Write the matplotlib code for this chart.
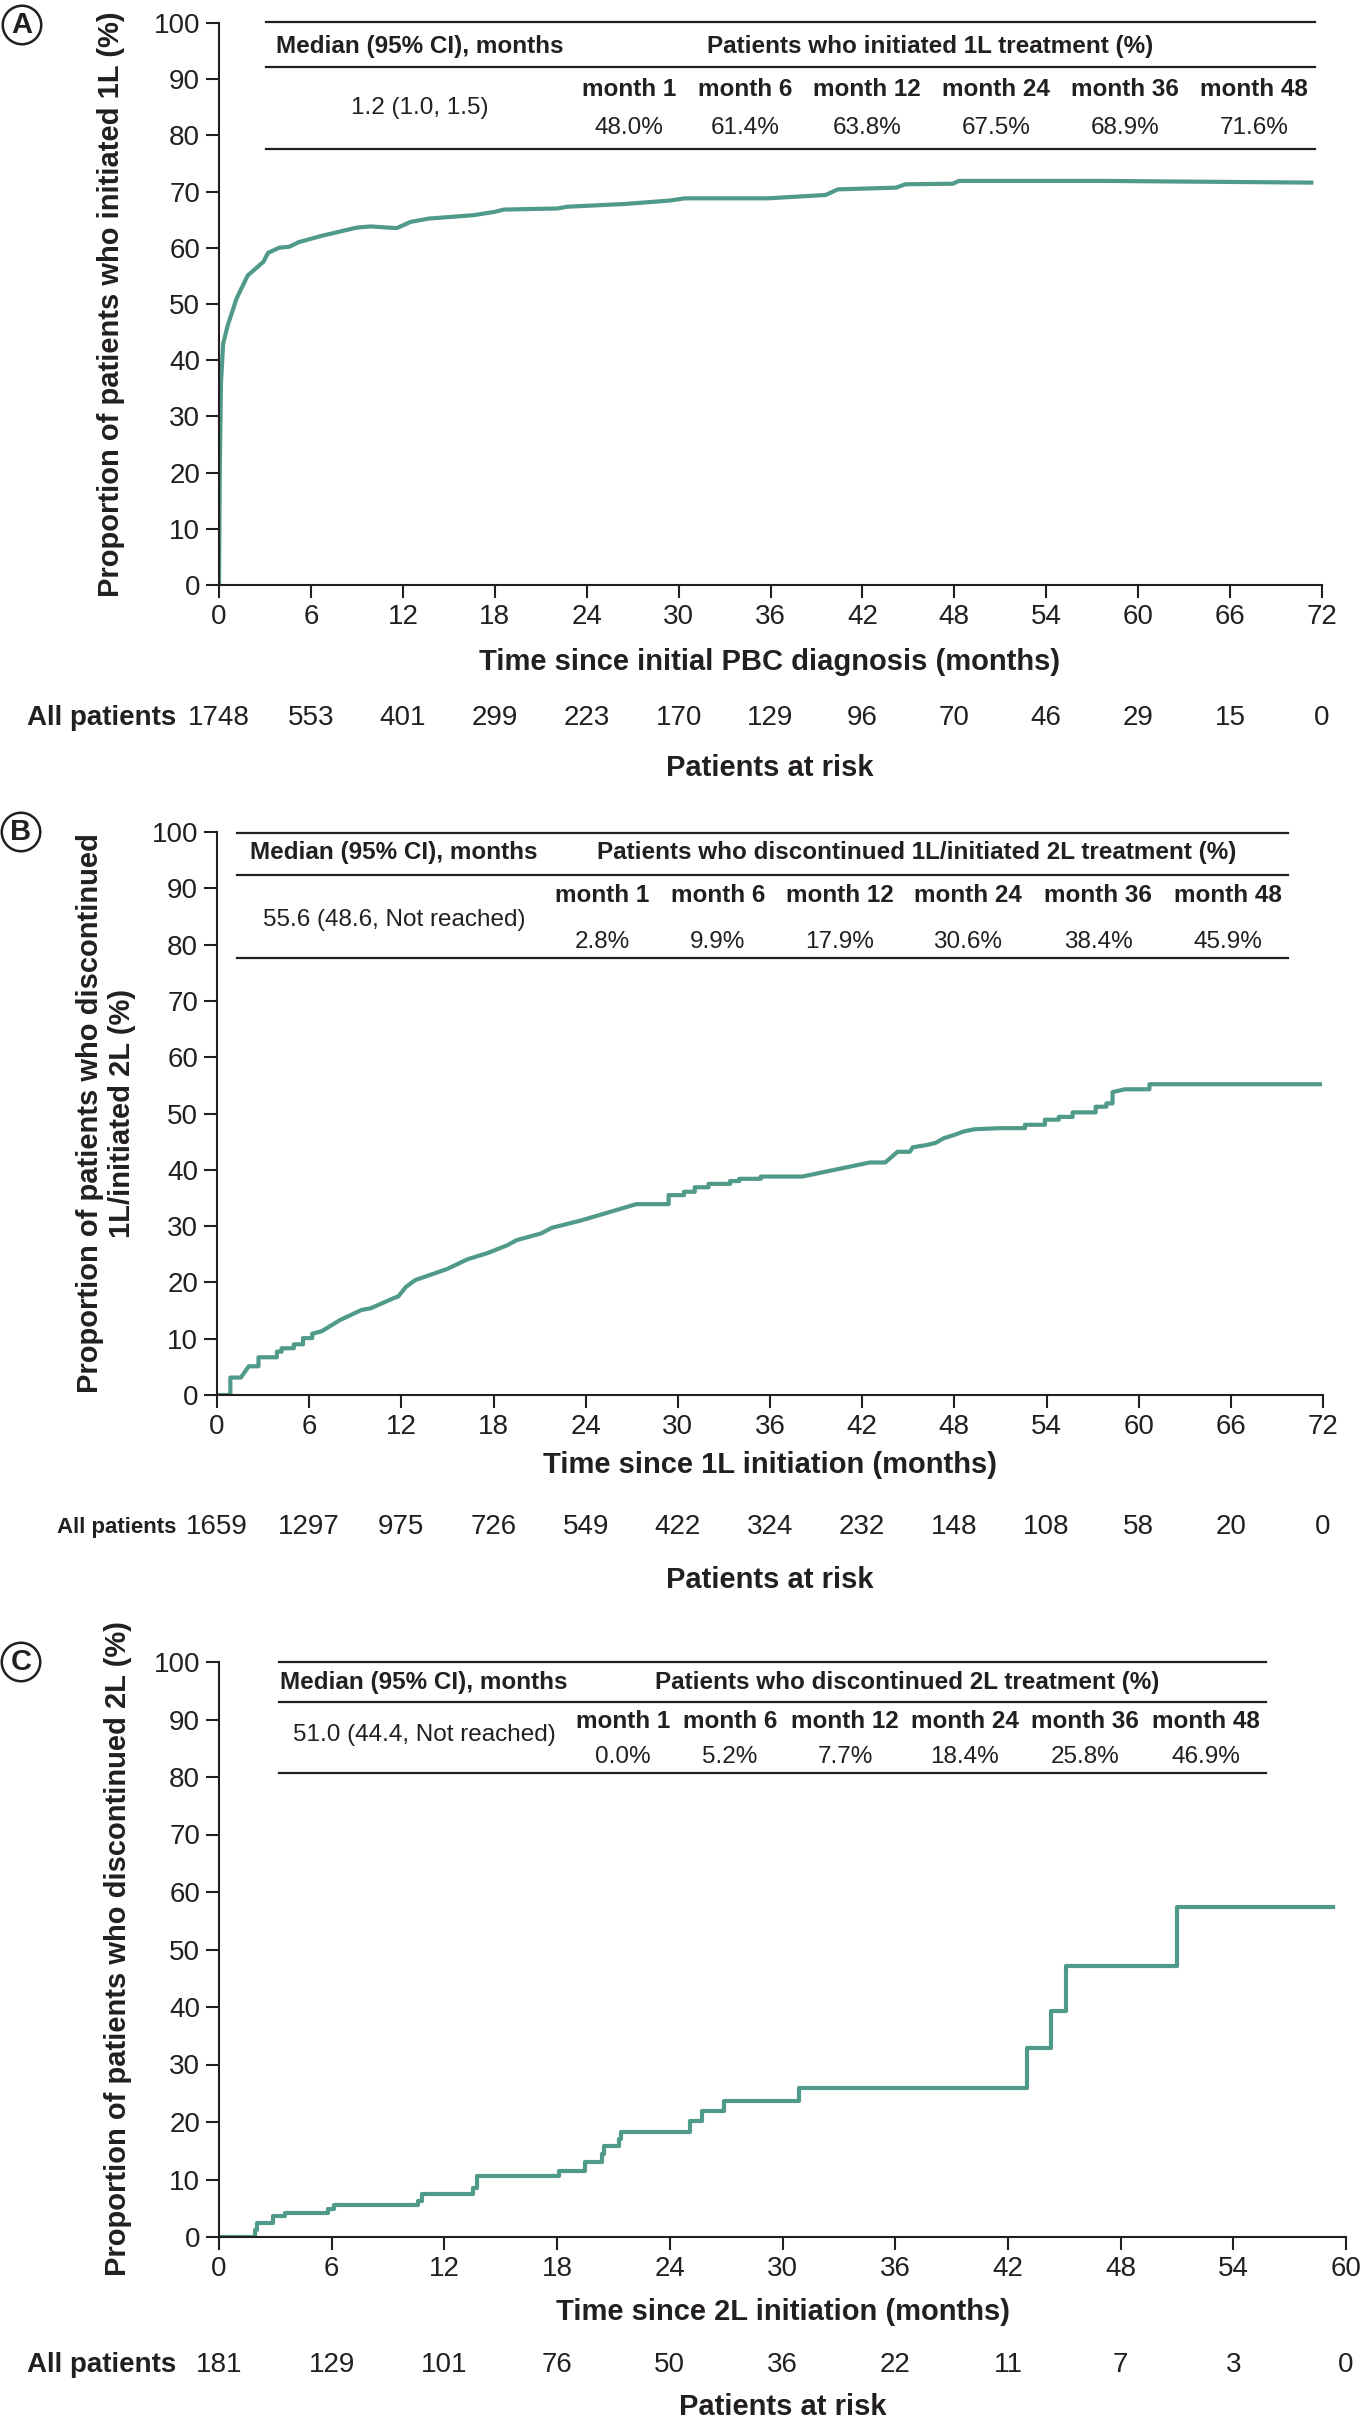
import matplotlib
matplotlib.use("Agg")
import matplotlib.pyplot as plt
from matplotlib.lines import Line2D
import matplotlib.transforms as mtransforms

plt.rcParams['font.family'] = ['Liberation Sans', 'DejaVu Sans']

# ---- data ----
# panel A: cumulative proportion initiating 1L (smooth curve)
a_time = [0, 0.05, 0.13, 0.27, 0.57, 1.15, 1.88, 2.9, 3.2, 3.92, 4.6, 5.2, 6.66, 9.0, 9.9,
          11.6, 12.5, 13.7, 16.6, 18.0, 18.6, 22.1, 22.7, 26.5, 29.4, 30.4, 35.8, 39.6, 40.4,
          44.2, 44.8, 47.9, 48.3, 57.8, 71.3]
a_pct = [0, 20, 36.0, 42.9, 46.2, 51.0, 55.1, 57.5, 59.1, 60.0, 60.2, 61.0, 62.1, 63.6, 63.8,
         63.5, 64.6, 65.2, 65.8, 66.4, 66.8, 67.0, 67.3, 67.8, 68.4, 68.8, 68.8, 69.4, 70.4,
         70.7, 71.3, 71.4, 71.9, 71.9, 71.6]

# panel B: discontinued 1L / initiated 2L
b_time = [0, 0.87, 0.87, 1.55, 2.07, 2.7, 2.7, 3.9, 3.9, 4.2, 4.2, 5.0, 5.0, 5.6, 5.6, 6.2, 6.2,
          6.8, 8.0, 9.4, 10.0, 11.5, 11.8, 12.3, 12.9, 15.0, 16.3, 17.6, 18.9, 19.5, 21.1, 21.8,
          23.7, 27.3, 29.4, 29.4, 30.4, 30.4, 31.1, 31.1, 32.0, 32.0, 33.4, 33.4, 34.0, 34.0,
          35.4, 35.4, 38.1, 42.5, 43.5, 44.3, 45.1, 45.3, 46.2, 46.8, 47.3, 48.0, 48.6, 49.3,
          51.0, 52.6, 52.6, 53.9, 53.9, 54.8, 54.8, 55.7, 55.7, 57.2, 57.2, 57.9, 57.9, 58.3,
          58.3, 59.1, 60.7, 60.7, 71.8]
b_pct = [0, 0, 3.1, 3.1, 5.1, 5.1, 6.7, 6.7, 7.7, 7.7, 8.3, 8.3, 9.0, 9.0, 10.1, 10.1, 10.9,
         11.3, 13.3, 15.1, 15.4, 17.2, 17.5, 19.2, 20.4, 22.4, 24.1, 25.2, 26.6, 27.5, 28.7, 29.7,
         31.0, 33.9, 33.9, 35.5, 35.5, 36.1, 36.1, 36.9, 36.9, 37.5, 37.5, 38.0, 38.0, 38.4,
         38.4, 38.8, 38.8, 41.3, 41.3, 43.2, 43.2, 44.0, 44.4, 44.8, 45.6, 46.2, 46.8, 47.2,
         47.4, 47.4, 48.0, 48.0, 48.9, 48.9, 49.4, 49.4, 50.2, 50.2, 51.2, 51.2, 51.8, 51.8,
         53.8, 54.3, 54.3, 55.2, 55.2]

# panel C: discontinued 2L (step function)
c_time = [0, 1.9, 2.0, 2.9, 3.5, 5.8, 6.1, 10.6, 10.8, 13.5, 13.75, 18.1, 19.5, 20.4, 20.5,
          21.3, 21.4, 25.1, 25.7, 26.9, 30.9, 43.0, 44.3, 45.1, 51.0, 59.3]
c_pct = [0, 1.3, 2.5, 3.7, 4.2, 4.9, 5.6, 6.3, 7.4, 8.5, 10.6, 11.5, 13.0, 14.5, 15.8, 17.0,
         18.2, 20.2, 22.0, 23.7, 25.9, 32.8, 39.3, 47.1, 57.4, 57.4]

months_tbl = ['month 1', 'month 6', 'month 12', 'month 24', 'month 36', 'month 48']
a_tbl = ['48.0%', '61.4%', '63.8%', '67.5%', '68.9%', '71.6%']
b_tbl = ['2.8%', '9.9%', '17.9%', '30.6%', '38.4%', '45.9%']
c_tbl = ['0.0%', '5.2%', '7.7%', '18.4%', '25.8%', '46.9%']

a_risk = [1748, 553, 401, 299, 223, 170, 129, 96, 70, 46, 29, 15, 0]
b_risk = [1659, 1297, 975, 726, 549, 422, 324, 232, 148, 108, 58, 20, 0]
c_risk = [181, 129, 101, 76, 50, 36, 22, 11, 7, 3, 0]

# ---- layout ----
W, H = 1363, 2421
fig = plt.figure(figsize=(W / 100, H / 100), dpi=100)
LINE_C = '#4f9a89'
TXT = '#231f20'


def fx(x):
    return x / W


def fy(y):
    return 1 - y / H


def make_axes(l, t, r, b, xmax):
    ax = fig.add_axes([fx(l), fy(b), (r - l) / W, (b - t) / H])
    for s in ['top', 'right']:
        ax.spines[s].set_visible(False)
    for s in ['left', 'bottom']:
        ax.spines[s].set_linewidth(1.5)
        ax.spines[s].set_color(TXT)
    ax.set_xlim(0, xmax)
    ax.set_ylim(0, 100)
    ax.set_xticks(range(0, xmax + 1, 6))
    ax.set_yticks(range(0, 101, 10))
    ax.tick_params(direction='out', length=9.5, width=1.5, labelsize=20, pad=4,
                   colors=TXT)
    return ax


def hline(x1, x2, y):
    fig.add_artist(Line2D([fx(x1), fx(x2)], [fy(y), fy(y)], transform=fig.transFigure,
                          color=TXT, lw=1.6))


def table(x1, x2, ys, head_y, med_x, pat_x, med_txt, pat_txt, val_y, row1_y, row2_y,
          col_x, vals):
    for y in ys:
        hline(x1, x2, y)
    fig.text(fx(med_x), fy(head_y), 'Median (95% CI), months', ha='center', va='center',
             fontsize=17.5, fontweight='bold', color=TXT)
    fig.text(fx(pat_x), fy(head_y), pat_txt, ha='center', va='center',
             fontsize=17.5, fontweight='bold', color=TXT)
    fig.text(fx(med_x), fy(val_y), med_txt, ha='center', va='center', fontsize=17.5,
             color=TXT)
    for x, m, v in zip(col_x, months_tbl, vals):
        fig.text(fx(x), fy(row1_y), m, ha='center', va='center', fontsize=17.5,
                 fontweight='bold', color=TXT)
        fig.text(fx(x), fy(row2_y), v, ha='center', va='center', fontsize=17.5,
                 color=TXT)


def risk_rows(ax, risk, label, label_size, row_y, xlab, xlab_y, risk_y, center_x):
    tr = mtransforms.blended_transform_factory(ax.transData, fig.transFigure)
    for t, n in zip(range(0, 6 * len(risk), 6), risk):
        ax.text(t, fy(row_y), str(n), transform=tr, ha='center', va='center',
                fontsize=20, color=TXT)
    fig.text(fx(176), fy(row_y), label, ha='right', va='center', fontsize=label_size,
             fontweight='bold', color=TXT)
    fig.text(fx(center_x), fy(xlab_y), xlab, ha='center', va='center', fontsize=21,
             fontweight='bold', color=TXT)
    fig.text(fx(center_x), fy(risk_y), 'Patients at risk', ha='center', va='center',
             fontsize=21, fontweight='bold', color=TXT)


def panel_letter(x, y, s):
    fig.text(fx(x), fy(y), s, ha='center', va='center', fontsize=21, fontweight='bold',
             color=TXT, bbox=dict(boxstyle='circle,pad=0.18', fc='white', ec=TXT, lw=1.8))


# ---- panel A ----
axA = make_axes(219, 23, 1322, 585, 72)
axA.plot(a_time, a_pct, color=LINE_C, lw=3)
table(266, 1315, [22, 67, 149], 46, 420, 930, '1.2 (1.0, 1.5)',
      'Patients who initiated 1L treatment (%)', 108, 89, 128,
      [629, 745, 867, 996, 1125, 1254], a_tbl)
fig.text(fx(111), fy(304), 'Proportion of patients who initiated 1L (%)', rotation=90,
         ha='center', va='center', fontsize=21, fontweight='bold', color=TXT)
risk_rows(axA, a_risk, 'All patients', 20, 718, 'Time since initial PBC diagnosis (months)',
          662, 768, 770)
panel_letter(22, 25, 'A')

# ---- panel B ----
axB = make_axes(217, 832, 1323, 1395, 72)
axB.plot(b_time, b_pct, color=LINE_C, lw=3)
table(237, 1288, [833, 875, 958], 853, 394, 917, '55.6 (48.6, Not reached)',
      'Patients who discontinued 1L/initiated 2L treatment (%)', 920, 896, 942,
      [602, 718, 840, 968, 1098, 1228], b_tbl)
fig.text(fx(106), fy(1113), 'Proportion of patients who discontinued\n1L/initiated 2L (%)',
         rotation=90, ha='center', va='center', fontsize=21, fontweight='bold', color=TXT,
         multialignment='center', linespacing=1.15)
risk_rows(axB, b_risk, 'All patients', 16, 1527, 'Time since 1L initiation (months)',
          1465, 1580, 770)
panel_letter(21, 832, 'B')

# ---- panel C ----
axC = make_axes(219, 1662, 1346, 2237, 60)
axC.plot(c_time, c_pct, color=LINE_C, lw=3, drawstyle='steps-post')
table(279, 1266, [1662, 1702, 1773], 1682, 424, 907, '51.0 (44.4, Not reached)',
      'Patients who discontinued 2L treatment (%)', 1735, 1721, 1757,
      [623, 730, 845, 965, 1085, 1206], c_tbl)
fig.text(fx(118), fy(1949), 'Proportion of patients who discontinued 2L (%)', rotation=90,
         ha='center', va='center', fontsize=21, fontweight='bold', color=TXT)
risk_rows(axC, c_risk, 'All patients', 20, 2365, 'Time since 2L initiation (months)',
          2312, 2407, 783)
panel_letter(21, 1662, 'C')

fig.savefig('out.png', dpi=100)
